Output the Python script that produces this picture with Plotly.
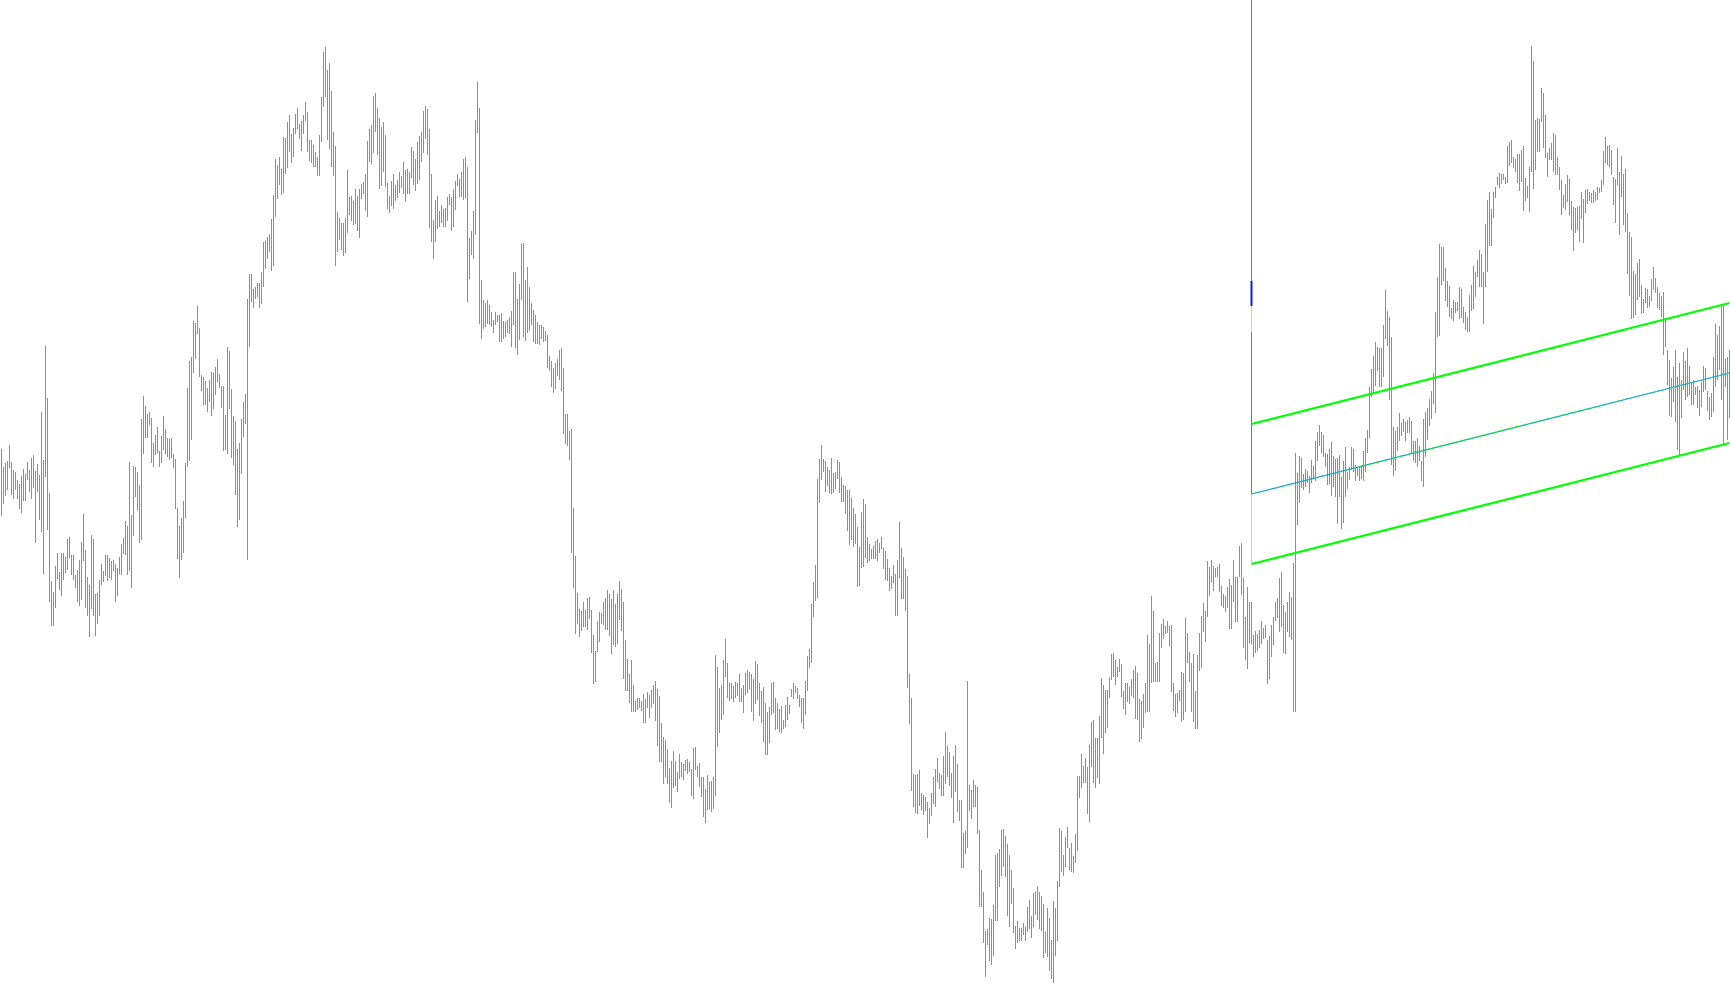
import plotly.graph_objects as go

# Bar highs / lows in points (price = points / 10000), one value per bar, oldest first
high_pts = [
12551,12533,12537,12539,12555,12538,12530,12528,12520,12516,
12524,12531,12526,12538,12530,12542,12545,12529,12536,12525,
12588,12540,12654,12602,12507,12419,12408,12434,12447,12428,
12447,12447,12443,12461,12463,12445,12445,12425,12430,12440,
12458,12486,12450,12423,12415,12465,12461,12406,12407,12420,
12436,12429,12445,12445,12442,12439,12440,12436,12432,12443,
12456,12462,12479,12474,12538,12485,12534,12533,12528,12515,
12581,12604,12594,12586,12588,12582,12557,12565,12573,12549,
12564,12584,12571,12562,12561,12562,12546,12541,12492,12474,
12482,12499,12537,12612,12639,12643,12679,12677,12694,12672,
12625,12623,12619,12612,12620,12628,12627,12633,12641,12626,
12614,12614,12585,12653,12649,12611,12584,12579,12551,12557,
12581,12598,12606,12701,12726,12726,12711,12713,12717,12717,
12728,12758,12759,12763,12766,12781,12805,12841,12835,12843,
12831,12863,12862,12878,12885,12866,12872,12886,12892,12876,
12879,12885,12898,12888,12860,12860,12855,12848,12843,12865,
12903,12948,12953,12930,12937,12909,12868,12854,12788,12782,
12777,12777,12782,12830,12803,12804,12799,12811,12804,12811,
12816,12818,12826,12859,12871,12875,12904,12907,12892,12882,
12873,12878,12865,12817,12804,12819,12826,12815,12820,12828,
12824,12838,12830,12831,12828,12853,12849,12841,12858,12864,
12868,12889,12894,12891,12871,12826,12780,12800,12804,12789,
12795,12791,12792,12803,12806,12803,12811,12819,12826,12821,
12828,12841,12843,12833,12762,12769,12789,12880,12918,12892,
12720,12700,12697,12700,12695,12688,12680,12688,12685,12685,
12687,12679,12678,12680,12683,12689,12728,12728,12701,12716,
12756,12757,12720,12733,12713,12697,12690,12685,12678,12675,
12675,12673,12669,12665,12644,12639,12632,12637,12641,12650,
12652,12632,12586,12586,12569,12571,12492,12444,12407,12391,
12389,12398,12390,12402,12403,12390,12365,12349,12379,12388,
12387,12398,12402,12410,12406,12401,12410,12396,12406,12419,
12411,12398,12360,12341,12326,12340,12315,12299,12302,12302,
12299,12306,12301,12308,12305,12310,12315,12319,12311,12304,
12277,12263,12260,12251,12232,12239,12249,12239,12228,12246,
12238,12236,12240,12241,12238,12231,12252,12253,12234,12237,
12223,12223,12211,12225,12218,12219,12223,12345,12333,12312,
12315,12340,12361,12337,12317,12317,12314,12318,12317,12326,
12312,12315,12327,12330,12328,12326,12321,12339,12336,12317,
12309,12313,12297,12288,12293,12317,12318,12302,12297,12291,
12294,12280,12295,12303,12295,12311,12317,12314,12312,12305,
12302,12302,12319,12344,12351,12396,12418,12435,12521,12541,
12555,12541,12539,12533,12530,12542,12527,12528,12540,12538,
12523,12515,12514,12510,12510,12502,12492,12486,12473,12453,
12488,12501,12496,12463,12456,12451,12454,12459,12461,12457,
12463,12452,12449,12441,12432,12424,12435,12426,12440,12478,
12452,12443,12431,12424,12326,12302,12226,12225,12226,12230,
12207,12205,12203,12198,12192,12207,12223,12231,12242,12227,
12225,12244,12268,12254,12248,12227,12244,12255,12236,12200,
12200,12167,12169,12319,12215,12210,12220,12215,12213,12170,
12130,12108,12069,12071,12082,12081,12095,12145,12147,12151,
12170,12171,12164,12156,12145,12130,12112,12074,12079,12072,
12072,12077,12073,12093,12100,12084,12107,12108,12114,12108,
12104,12096,12068,12092,12082,12060,12099,12092,12119,12172,
12169,12145,12163,12173,12152,12157,12144,12166,12224,12224,
12246,12234,12242,12233,12255,12278,12280,12262,12262,12284,
12322,12315,12310,12310,12323,12346,12347,12340,12333,12341,
12336,12309,12317,12317,12313,12321,12330,12334,12327,12301,
12299,12306,12317,12365,12356,12404,12389,12337,12338,12367,
12376,12381,12374,12379,12374,
12375,12317,12306,12307,12310,12328,12327,12382,12367,12348,
12337,12346,12309,12345,12367,12384,12397,12389,12439,12433,
12440,12434,12432,12433,12436,12414,12406,12404,12413,12421,
12415,12440,12423,12423,12454,12457,12422,12383,12413,12398,
12398,12365,12369,12366,12370,12379,12372,12375,12360,12364,
12375,12383,12398,12402,12422,12428,12395,12388,12398,12408,
12403,12437,12547,12527,12544,
12542,12526,12531,12529,12524,12540,12534,12559,12568,12575,
12568,12565,12547,12546,12551,12558,12544,12541,12542,12545,
12523,12539,12553,12528,12533,12553,12551,12535,12533,12533,
12535,12549,12562,12570,12613,12631,12644,12658,12653,12652,
12652,12675,12710,12689,12683,12663,12573,12569,12573,12587,
12577,12581,12578,12580,12583,12579,12559,12559,12562,12554,
12539,12581,12588,12592,12601,12609,12627,12688,12723,12756,
12753,12753,12732,12719,12714,12692,12700,12698,12698,12713,
12711,12693,12688,12683,12705,12715,12734,12728,12740,12750,
12746,12728,12776,12800,12808,12791,12808,12813,12823,12827,
12826,12826,12823,12854,12858,
12860,12843,12841,12846,12846,12850,12854,12822,12814,12833,
12954,12939,12880,12882,12881,12912,12907,12885,12847,12852,
12857,12867,12865,12843,12833,12820,12805,12816,12825,12821,
12799,12793,12792,12793,12794,12808,12801,12810,12811,12808,
12807,12810,12808,12813,12812,12820,12849,12863,12854,12855,
12850,12823,12821,12852,12828,12844,12826,12831,12787,12768,
12763,12729,12726,12737,12741,12715,12701,12712,12711,12704,
12721,12733,12722,12713,12707,12704,12708,12682,12650,12640,
12622,12633,12650,12623,12637,12620,12648,12639,12652,12634,
12617,12620,12613,12614,12610,12618,12634,12632,12609,12603,
12607,12643,12676,12665,12674,12696,12695,12641,12643,12650,
]

low_pts = [
12484,12496,12504,12510,12532,12505,12501,12510,12501,12491,
12487,12499,12499,12520,12508,12501,12512,12457,12508,12480,
12468,12426,12523,12470,12398,12374,12374,12392,12421,12410,
12404,12420,12427,12430,12442,12425,12420,12412,12398,12394,
12400,12439,12392,12384,12363,12391,12384,12364,12376,12384,
12415,12418,12424,12419,12422,12420,12429,12398,12404,12426,
12425,12446,12445,12425,12429,12412,12464,12503,12490,12457,
12460,12546,12562,12562,12575,12537,12533,12545,12547,12533,
12537,12550,12546,12543,12540,12542,12532,12491,12441,12422,
12440,12447,12482,12533,12539,12560,12627,12641,12666,12623,
12609,12595,12595,12588,12598,12584,12591,12605,12618,12612,
12592,12549,12550,12546,12591,12542,12535,12505,12473,12480,
12526,12563,12576,12440,12653,12698,12692,12701,12703,12692,
12696,12713,12731,12741,12748,12729,12734,12783,12801,12815,
12805,12807,12826,12832,12848,12837,12843,12866,12871,12861,
12849,12866,12879,12848,12839,12837,12833,12833,12824,12824,
12858,12893,12903,12860,12851,12833,12824,12734,12748,12760,
12750,12744,12747,12767,12785,12779,12775,12776,12769,12762,
12801,12806,12789,12783,12838,12836,12847,12868,12845,12811,
12814,12828,12813,12791,12787,12794,12791,12799,12802,12807,
12812,12806,12798,12806,12806,12822,12815,12809,12816,12820,
12838,12847,12861,12845,12772,12758,12741,12758,12771,12773,
12777,12773,12773,12779,12795,12769,12773,12790,12814,12803,
12803,12800,12802,12698,12721,12745,12741,12765,12867,12676,
12661,12671,12673,12676,12675,12673,12667,12675,12678,12658,
12658,12661,12663,12667,12666,12653,12675,12652,12645,12660,
12700,12663,12659,12667,12669,12675,12658,12656,12656,12655,
12661,12658,12659,12632,12629,12613,12607,12611,12624,12620,
12609,12566,12556,12554,12540,12447,12412,12366,12376,12363,
12369,12373,12373,12370,12381,12347,12316,12318,12348,12358,
12376,12375,12370,12370,12364,12346,12355,12353,12356,12380,
12369,12321,12309,12309,12297,12288,12288,12288,12290,12292,
12289,12277,12277,12292,12282,12292,12296,12279,12254,12238,
12238,12216,12223,12216,12197,12192,12212,12214,12208,12221,
12223,12220,12229,12226,12228,12204,12201,12230,12223,12213,
12203,12183,12177,12190,12191,12188,12191,12204,12253,12267,
12280,12285,12323,12302,12299,12301,12298,12302,12304,12298,
12298,12287,12305,12307,12311,12288,12279,12296,12300,12284,
12277,12258,12245,12245,12257,12285,12287,12270,12271,12268,
12267,12271,12273,12280,12286,12303,12301,12307,12301,12293,
12277,12271,12285,12309,12332,12337,12383,12399,12402,12497,
12520,12528,12508,12514,12507,12506,12507,12511,12521,12507,
12498,12498,12486,12469,12455,12460,12453,12456,12413,12414,
12432,12433,12442,12437,12439,12441,12441,12441,12439,12447,
12451,12431,12420,12419,12409,12411,12417,12384,12384,12422,
12401,12401,12389,12312,12276,12209,12193,12187,12186,12194,
12190,12185,12189,12162,12176,12184,12196,12193,12218,12211,
12204,12204,12216,12223,12214,12202,12177,12208,12188,12179,
12132,12132,12146,12152,12189,12181,12193,12193,12166,12093,
12093,12057,12023,12055,12039,12035,12044,12079,12079,12113,
12124,12133,12123,12084,12073,12096,12067,12051,12057,12059,
12059,12065,12059,12068,12071,12062,12073,12085,12080,12071,
12069,12042,12047,12043,12029,12021,12017,12044,12059,12113,
12128,12124,12133,12152,12130,12128,12127,12137,12149,12202,
12212,12217,12217,12186,12178,12233,12217,12212,12222,12216,
12262,12246,12267,12272,12302,12320,12323,12315,12323,12328,
12303,12291,12285,12298,12296,12304,12302,12281,12280,12258,
12261,12272,12287,12288,12288,12317,12318,12318,12318,12318,
12352,12361,12366,12367,12354,
12308,12289,12283,12287,12299,12278,12280,12288,12337,12318,
12288,12278,12271,12271,12329,12332,12368,12358,12383,12404,
12418,12409,12423,12423,12408,12394,12392,12388,12392,12371,
12371,12398,12378,12378,12423,12405,12352,12340,12331,12357,
12356,12343,12347,12349,12352,12356,12361,12362,12316,12321,
12343,12355,12379,12382,12368,12373,12347,12346,12368,12363,
12360,12288,12288,12475,12497,
12512,12510,12513,12517,12507,12517,12521,12519,12539,12554,
12547,12543,12533,12515,12516,12504,12513,12503,12476,12503,
12471,12477,12503,12511,12520,12530,12528,12519,12524,12519,
12521,12519,12528,12547,12562,12603,12607,12614,12629,12613,
12613,12623,12661,12654,12600,12535,12524,12529,12549,12559,
12564,12568,12559,12567,12567,12547,12539,12537,12533,12539,
12519,12513,12543,12560,12574,12581,12596,12587,12663,12664,
12715,12719,12699,12693,12683,12681,12679,12687,12689,12681,
12682,12677,12670,12668,12668,12689,12691,12703,12723,12713,
12713,12676,12713,12728,12754,12754,12782,12802,12815,12812,
12816,12820,12816,12817,12834,
12837,12832,12828,12817,12809,12818,12789,12799,12802,12788,
12828,12811,12830,12848,12848,12878,12852,12842,12823,12840,
12840,12828,12825,12825,12810,12785,12792,12790,12798,12785,
12770,12749,12767,12770,12758,12781,12757,12787,12796,12799,
12797,12797,12799,12800,12807,12808,12815,12837,12835,12833,
12825,12795,12777,12815,12765,12803,12775,12768,12726,12704,
12681,12682,12685,12700,12703,12686,12687,12697,12692,12693,
12699,12710,12707,12692,12690,12683,12645,12653,12615,12584,
12583,12598,12578,12550,12545,12582,12610,12600,12603,12605,
12595,12595,12605,12592,12584,12593,12608,12610,12589,12580,
12583,12588,12613,12620,12630,12600,12555,12613,12560,12582,
]

PT = 10000.0
# Regression channel (bar indices and mid-line prices in points, deviation in points)
ch_start, ch_end = 625, 864
ch_mid_start, ch_mid_end = 12506, 12627
ch_dev = 70
# Vertical marker line at the channel start: (top pts, bottom pts, colour, width)
vline_parts = [
    (13000, 12719, "#1e90ff", 1),
    (12719, 12694, "#0a22d0", 2),
    (12694, 12668, "#a8daf0", 1),
    (12668, 12506, "#1e90ff", 1),
    (12506, 12436, "#a8daf0", 1),
]
y_top, y_bottom = 13000, 11995

n = min(len(high_pts), len(low_pts))
bx, by = [], []
for i in range(n):
    bx += [i, i, None]
    by += [high_pts[i] / PT, low_pts[i] / PT, None]

fig = go.Figure()
fig.add_trace(go.Scatter(x=bx, y=by, mode="lines",
                         line=dict(color="#20dc20", width=1),
                         hoverinfo="skip", connectgaps=False))

for top, bot, col, w in vline_parts:
    fig.add_trace(go.Scatter(x=[ch_start, ch_start], y=[top / PT, bot / PT], mode="lines",
                             line=dict(color=col, width=w), hoverinfo="skip"))

cx = [ch_start, ch_end]
mid = [ch_mid_start / PT, ch_mid_end / PT]
up = [(ch_mid_start + ch_dev) / PT, (ch_mid_end + ch_dev) / PT]
lo = [(ch_mid_start - ch_dev) / PT, (ch_mid_end - ch_dev) / PT]
fig.add_trace(go.Scatter(x=cx, y=up, mode="lines", line=dict(color="#00ff00", width=2.2), hoverinfo="skip"))
fig.add_trace(go.Scatter(x=cx, y=lo, mode="lines", line=dict(color="#00ff00", width=2.2), hoverinfo="skip"))
fig.add_trace(go.Scatter(x=cx, y=mid, mode="lines", line=dict(color="#1e90ff", width=1.2), hoverinfo="skip"))
fig.add_trace(go.Scatter(x=cx, y=mid, mode="lines", line=dict(color="#00ff00", width=1, dash="4px,4px"), hoverinfo="skip"))

fig.update_layout(
    width=1730, height=1005,
    margin=dict(l=0, r=0, t=0, b=0),
    paper_bgcolor="white", plot_bgcolor="white",
    showlegend=False, hovermode=False,
    xaxis=dict(visible=False, range=[-0.75, n - 1 + 0.25], fixedrange=True),
    yaxis=dict(visible=False, range=[y_bottom / PT, y_top / PT], fixedrange=True),
)

fig.write_html("out.html", config={"displayModeBar": False, "staticPlot": True})

with open("out.html", "r", encoding="utf-8") as f:
    html = f.read()
html = html.replace("<head>", "<head><style>html,body{margin:0;padding:0;overflow:hidden;background:#fff}</style>", 1)
with open("out.html", "w", encoding="utf-8") as f:
    f.write(html)
